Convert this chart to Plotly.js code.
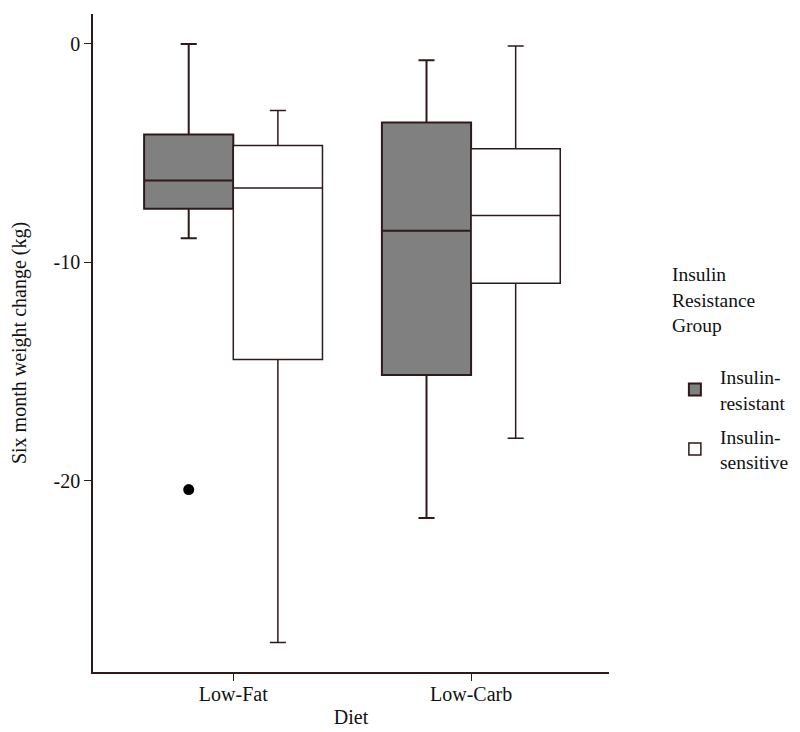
<!DOCTYPE html>
<html>
<head>
<meta charset="utf-8">
<script src="https://cdn.plot.ly/plotly-3.0.1.min.js"></script>
<style>
  body { margin: 0; background: #fff; }
  #plot { width: 800px; height: 732px; }
</style>
</head>
<body>
<div id="plot"></div>
<script>
// diet categories
const diets = ["Low-Fat", "Low-Carb"];

// insulin-resistant group stats (kg)
const resLower = [-8.9, -21.7];
const resQ1 = [-7.55, -15.15];
const resMedian = [-6.25, -8.55];
const resQ3 = [-4.15, -3.6];
const resUpper = [0, -0.75];
const resOutliers = [[-20.4], []];

// insulin-sensitive group stats (kg)
const sensLower = [-27.4, -18.05];
const sensQ1 = [-14.45, -10.95];
const sensMedian = [-6.6, -7.85];
const sensQ3 = [-4.65, -4.8];
const sensUpper = [-3.05, -0.1];

const yTicks = [0, -10, -20];
const yTickText = ["0", "-10", "-20"];

const lineCol = "#2e1a1a";
const serif = "Times New Roman, Liberation Serif, serif";
const txt = "#111";

const trace1 = {
  type: "box",
  name: "Insulin-<br>resistant",
  legendgroup: "res",
  x: diets,
  y: resOutliers,
  q1: resQ1,
  median: resMedian,
  q3: resQ3,
  lowerfence: resLower,
  upperfence: resUpper,
  boxpoints: "outliers",
  jitter: 0,
  pointpos: 0,
  whiskerwidth: 0.18,
  fillcolor: "#808080",
  line: { color: lineCol, width: 2 },
  marker: { color: "#000", size: 11, line: { width: 0 } },
  hoverinfo: "y"
};

const trace2 = {
  type: "box",
  name: "Insulin-<br>sensitive",
  legendgroup: "sens",
  x: diets,
  q1: sensQ1,
  median: sensMedian,
  q3: sensQ3,
  lowerfence: sensLower,
  upperfence: sensUpper,
  boxpoints: false,
  whiskerwidth: 0.18,
  fillcolor: "#ffffff",
  line: { color: lineCol, width: 1.5 },
  hoverinfo: "y"
};

const layout = {
  width: 800,
  height: 732,
  margin: { l: 93, r: 191, t: 14, b: 60, autoexpand: false },
  paper_bgcolor: "#fff",
  plot_bgcolor: "#fff",
  font: { family: serif, size: 20, color: txt },
  boxmode: "group",
  boxgap: 0.25,
  boxgroupgap: 0,
  showlegend: true,
  legend: {
    title: { text: "Insulin<br>Resistance<br>Group<br> ", font: { family: serif, size: 19.5, color: txt } },
    font: { family: serif, size: 19.5, color: txt },
    x: 1.118, xanchor: "left",
    y: 0.632, yanchor: "top",
    tracegroupgap: 6,
    itemwidth: 40
  },
  xaxis: {
    type: "category",
    range: [-0.59, 1.58],
    showline: true,
    linecolor: lineCol,
    linewidth: 1.5,
    ticks: "outside",
    ticklen: 7,
    tickcolor: lineCol,
    ticklabelstandoff: -4,
    showgrid: false,
    zeroline: false,
    tickfont: { family: serif, size: 20, color: txt },
    title: { text: "Diet", font: { family: serif, size: 20, color: txt }, standoff: 6 }
  },
  yaxis: {
    range: [-28.75, 1.37],
    tickvals: yTicks,
    ticktext: yTickText,
    showline: true,
    linecolor: lineCol,
    linewidth: 1.5,
    ticks: "outside",
    ticklen: 7,
    tickcolor: lineCol,
    showgrid: false,
    zeroline: false,
    tickfont: { family: serif, size: 20, color: txt },
    title: { text: "Six month weight change (kg)", font: { family: serif, size: 20, color: txt }, standoff: 22 }
  }
};

Plotly.newPlot("plot", [trace1, trace2], layout, { displayModeBar: false });
</script>
</body>
</html>
